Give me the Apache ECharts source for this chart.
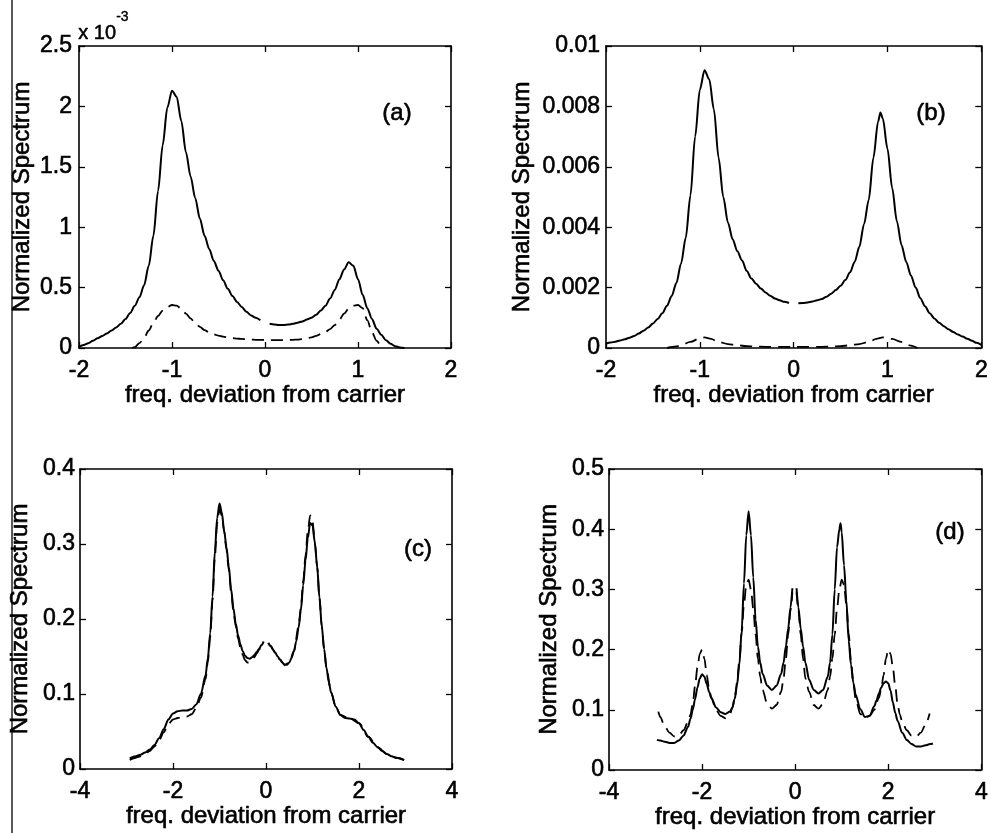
<!DOCTYPE html>
<html>
<head>
<meta charset="utf-8">
<script src="https://cdn.jsdelivr.net/npm/echarts@6/dist/echarts.min.js"></script>
<style>html,body{margin:0;padding:0;background:#fff;}#chart{width:991px;height:833px;}</style>
</head>
<body>
<div id="chart"></div>
<script>
// ---------- DATA ----------
// Panel (a): values in units of 1e-3
const aSolidX = [-2.0,-1.95,-1.9,-1.85,-1.8,-1.75,-1.7,-1.65,-1.6,-1.55,-1.5,-1.45,-1.4,-1.35,-1.3,-1.25,-1.2,-1.15,-1.1,-1.05,-1.0,-0.95,-0.9,-0.85,-0.8,-0.75,-0.7,-0.65,-0.6,-0.55,-0.5,-0.45,-0.4,-0.35,-0.3,-0.25,-0.2,-0.15,-0.1,-0.05,0,0.05,0.1,0.15,0.2,0.25,0.3,0.35,0.4,0.45,0.5,0.55,0.6,0.65,0.7,0.75,0.8,0.85,0.9,0.95,1.0,1.05,1.1,1.15,1.2,1.25,1.3,1.35,1.4,1.45,1.5];
const aSolidY = [0.01,0.025,0.04,0.06,0.08,0.1,0.12,0.145,0.17,0.2,0.24,0.29,0.35,0.42,0.52,0.68,0.93,1.3,1.68,1.99,2.13,2.08,1.88,1.62,1.42,1.24,1.07,0.93,0.82,0.72,0.64,0.56,0.49,0.43,0.38,0.34,0.3,0.27,0.25,0.23,null,0.2,0.195,0.19,0.19,0.195,0.2,0.21,0.22,0.235,0.25,0.275,0.31,0.35,0.41,0.48,0.57,0.65,0.71,0.68,0.57,0.44,0.33,0.24,0.16,0.11,0.065,0.035,0.015,0.005,0.0];
const aDashX = [-1.43,-1.4,-1.35,-1.3,-1.25,-1.2,-1.15,-1.1,-1.05,-1.0,-0.95,-0.9,-0.85,-0.8,-0.75,-0.7,-0.65,-0.6,-0.55,-0.5,-0.45,-0.4,-0.35,-0.3,-0.25,-0.2,-0.15,-0.1,-0.05,0,0.05,0.1,0.15,0.2,0.25,0.3,0.35,0.4,0.45,0.5,0.55,0.6,0.65,0.7,0.75,0.8,0.85,0.9,0.95,1.0,1.05,1.1,1.15,1.2,1.25,1.28];
const aDashY = [0.0,0.008,0.04,0.085,0.145,0.21,0.265,0.31,0.34,0.356,0.35,0.325,0.285,0.245,0.205,0.175,0.148,0.128,0.113,0.102,0.094,0.087,0.082,0.078,0.075,0.072,0.07,0.068,0.067,0.066,0.066,0.066,0.066,0.066,0.067,0.068,0.07,0.074,0.08,0.088,0.1,0.115,0.133,0.157,0.19,0.235,0.285,0.325,0.35,0.356,0.33,0.23,0.13,0.06,0.015,0.0];

// Panel (b)
const bSolidX = [-2.0,-1.95,-1.9,-1.85,-1.8,-1.75,-1.7,-1.65,-1.6,-1.55,-1.5,-1.45,-1.4,-1.35,-1.3,-1.25,-1.2,-1.15,-1.1,-1.05,-1.0,-0.95,-0.9,-0.85,-0.8,-0.75,-0.7,-0.65,-0.6,-0.55,-0.5,-0.45,-0.4,-0.35,-0.3,-0.25,-0.2,-0.15,-0.1,-0.05,0,0.05,0.1,0.15,0.2,0.25,0.3,0.35,0.4,0.45,0.5,0.55,0.6,0.65,0.7,0.75,0.8,0.85,0.9,0.925,0.95,1.0,1.05,1.1,1.15,1.2,1.25,1.3,1.35,1.4,1.45,1.5,1.55,1.6,1.65,1.7,1.75,1.8,1.85,1.9,1.95,2.0];
const bSolidY = [0.00015,0.00018,0.00021,0.00025,0.00029,0.00034,0.0004,0.00048,0.00057,0.00068,0.00081,0.00096,0.00115,0.0014,0.00172,0.00215,0.0028,0.00365,0.00505,0.007,0.00855,0.0092,0.0089,0.0079,0.0063,0.005,0.00415,0.0036,0.0032,0.0029,0.00255,0.0023,0.00213,0.00197,0.00184,0.00173,0.00164,0.00158,0.00153,0.00149,null,0.00148,0.00149,0.00151,0.00154,0.00158,0.00162,0.0017,0.0018,0.00192,0.00206,0.00225,0.0025,0.00285,0.00335,0.0041,0.0049,0.0063,0.0075,0.0078,0.0076,0.0066,0.0053,0.0042,0.0034,0.00285,0.0024,0.002,0.00165,0.00138,0.00115,0.00098,0.00084,0.00072,0.00062,0.00053,0.00045,0.00038,0.00031,0.00024,0.00017,0.0001];
const bDashX = [-1.35,-1.25,-1.2,-1.1,-1.0,-0.95,-0.88,-0.8,-0.7,-0.6,-0.5,-0.4,-0.3,-0.15,0,0.15,0.3,0.4,0.5,0.6,0.7,0.8,0.88,0.95,1.05,1.15,1.25,1.32];
const bDashY = [0.0,0.00005,0.0001,0.0002,0.00032,0.00035,0.0003,0.0002,0.00013,0.00009,0.00006,0.00005,0.00004,0.00004,0.00004,0.00004,0.00004,0.00005,0.00006,0.00009,0.00013,0.0002,0.0003,0.00035,0.0003,0.0002,0.00008,0.0];

// Panel (c)
const cSolidX = [-2.93,-2.8,-2.7,-2.6,-2.5,-2.4,-2.3,-2.2,-2.1,-2.0,-1.9,-1.8,-1.7,-1.6,-1.5,-1.4,-1.3,-1.25,-1.2,-1.15,-1.1,-1.05,-1.0,-0.95,-0.9,-0.85,-0.8,-0.75,-0.7,-0.65,-0.6,-0.55,-0.5,-0.45,-0.4,-0.35,-0.3,-0.25,-0.2,-0.15,-0.1,-0.05,0,0.05,0.1,0.15,0.2,0.25,0.3,0.35,0.4,0.45,0.5,0.55,0.6,0.65,0.7,0.75,0.8,0.85,0.9,0.95,1.0,1.05,1.1,1.15,1.2,1.25,1.3,1.35,1.4,1.5,1.6,1.7,1.8,1.9,2.0,2.1,2.2,2.3,2.4,2.5,2.6,2.7,2.8,2.97];
const cSolidY = [0.014,0.017,0.019,0.022,0.026,0.032,0.041,0.053,0.066,0.074,0.077,0.078,0.078,0.08,0.086,0.1,0.125,0.148,0.181,0.23,0.29,0.335,0.354,0.342,0.318,0.296,0.27,0.24,0.214,0.194,0.178,0.166,0.157,0.151,0.148,0.147,0.149,0.152,0.156,0.16,0.165,0.17,null,0.168,0.164,0.159,0.155,0.15,0.146,0.142,0.139,0.139,0.142,0.148,0.157,0.17,0.188,0.212,0.245,0.278,0.308,0.328,0.325,0.302,0.27,0.228,0.19,0.16,0.135,0.116,0.102,0.083,0.072,0.068,0.0675,0.066,0.061,0.052,0.043,0.035,0.029,0.024,0.02,0.017,0.015,0.012];
const cDashX = [-2.93,-2.8,-2.7,-2.6,-2.5,-2.4,-2.3,-2.2,-2.1,-2.0,-1.9,-1.8,-1.7,-1.6,-1.5,-1.4,-1.3,-1.25,-1.2,-1.15,-1.1,-1.05,-1.0,-0.95,-0.9,-0.85,-0.8,-0.75,-0.7,-0.65,-0.6,-0.55,-0.5,-0.45,-0.4,-0.35,-0.3,-0.25,-0.2,-0.15,-0.1,-0.05,0,0.05,0.1,0.2,0.3,0.4,0.5,0.6,0.7,0.75,0.8,0.85,0.9,0.95,1.0,1.05,1.1,1.15,1.2,1.25,1.3,1.4,1.5,1.6,1.8,2.0,2.2,2.4,2.6,2.8,2.97];
const cDashY = [0.012,0.015,0.017,0.02,0.024,0.03,0.038,0.049,0.06,0.066,0.068,0.069,0.07,0.073,0.081,0.095,0.12,0.143,0.176,0.225,0.282,0.328,0.346,0.338,0.316,0.292,0.265,0.236,0.21,0.19,0.174,0.162,0.152,0.145,0.142,0.142,0.145,0.149,0.154,0.159,0.164,0.168,null,0.168,0.164,0.155,0.146,0.139,0.142,0.157,0.19,0.215,0.25,0.285,0.318,0.338,0.33,0.302,0.27,0.228,0.19,0.16,0.135,0.102,0.083,0.072,0.0675,0.061,0.043,0.029,0.02,0.015,0.012];

// Panel (d)
const dSolidX = [-2.97,-2.9,-2.8,-2.7,-2.6,-2.5,-2.4,-2.3,-2.25,-2.2,-2.15,-2.1,-2.05,-2.0,-1.95,-1.9,-1.85,-1.8,-1.7,-1.6,-1.5,-1.4,-1.35,-1.3,-1.25,-1.2,-1.15,-1.1,-1.05,-1.0,-0.95,-0.9,-0.85,-0.8,-0.75,-0.7,-0.6,-0.5,-0.4,-0.3,-0.25,-0.2,-0.15,-0.1,-0.06,0,0.03,0.07,0.12,0.17,0.22,0.3,0.4,0.5,0.6,0.7,0.75,0.8,0.85,0.9,0.95,0.975,1.0,1.05,1.1,1.15,1.2,1.25,1.3,1.4,1.5,1.6,1.7,1.75,1.8,1.85,1.9,1.95,2.0,2.05,2.1,2.15,2.2,2.3,2.4,2.5,2.6,2.7,2.8,2.9,2.96];
const dSolidY = [0.05,0.049,0.047,0.045,0.045,0.049,0.057,0.072,0.085,0.1,0.118,0.137,0.152,0.159,0.155,0.143,0.13,0.119,0.104,0.096,0.093,0.097,0.104,0.118,0.14,0.175,0.23,0.31,0.39,0.43,0.39,0.32,0.25,0.205,0.178,0.16,0.14,0.133,0.14,0.16,0.178,0.205,0.235,0.27,0.302,null,0.302,0.27,0.235,0.205,0.178,0.15,0.133,0.127,0.133,0.155,0.178,0.225,0.3,0.37,0.4,0.41,0.395,0.34,0.282,0.215,0.175,0.145,0.125,0.101,0.088,0.09,0.106,0.116,0.127,0.137,0.144,0.147,0.144,0.132,0.112,0.095,0.082,0.062,0.05,0.043,0.039,0.039,0.041,0.043,0.044];
const dDashX = [-2.94,-2.9,-2.8,-2.7,-2.6,-2.5,-2.4,-2.3,-2.25,-2.2,-2.15,-2.1,-2.05,-2.0,-1.95,-1.9,-1.85,-1.8,-1.7,-1.6,-1.5,-1.4,-1.35,-1.3,-1.25,-1.2,-1.15,-1.1,-1.05,-1.0,-0.95,-0.9,-0.85,-0.8,-0.75,-0.7,-0.6,-0.5,-0.4,-0.3,-0.25,-0.2,-0.15,-0.1,-0.06,0,0.03,0.07,0.12,0.17,0.22,0.3,0.4,0.5,0.6,0.7,0.75,0.8,0.85,0.9,0.95,1.0,1.05,1.1,1.15,1.2,1.25,1.3,1.4,1.5,1.6,1.7,1.8,1.85,1.9,1.95,2.0,2.05,2.1,2.15,2.2,2.25,2.3,2.4,2.5,2.6,2.7,2.8,2.89];
const dDashY = [0.097,0.088,0.072,0.062,0.056,0.057,0.066,0.08,0.092,0.11,0.14,0.17,0.193,0.2,0.185,0.158,0.135,0.12,0.1,0.09,0.086,0.093,0.103,0.118,0.145,0.18,0.227,0.275,0.308,0.316,0.3,0.268,0.225,0.185,0.155,0.133,0.11,0.102,0.108,0.13,0.152,0.185,0.225,0.265,0.295,null,0.295,0.265,0.225,0.185,0.152,0.13,0.108,0.102,0.11,0.133,0.155,0.185,0.225,0.268,0.3,0.316,0.308,0.275,0.227,0.18,0.145,0.118,0.093,0.086,0.09,0.1,0.12,0.135,0.158,0.185,0.2,0.193,0.17,0.14,0.11,0.092,0.08,0.066,0.057,0.055,0.062,0.075,0.094];

// Axis ticks
const xTicksTop = [-2, -1, 0, 1, 2];
const xTicksBottom = [-4, -2, 0, 2, 4];
const yTicksA = [0, 0.5, 1, 1.5, 2, 2.5];
const yTicksB = [0, 0.002, 0.004, 0.006, 0.008, 0.01];
const yTicksC = [0, 0.1, 0.2, 0.3, 0.4];
const yTicksD = [0, 0.1, 0.2, 0.3, 0.4, 0.5];

const xTitle = 'freq. deviation from carrier';
const yTitle = 'Normalized Spectrum';
const panelLabels = ['(a)', '(b)', '(c)', '(d)'];

// ---------- CHART ----------
const FONT = "'Liberation Sans', Arial, Helvetica, sans-serif";
const BLACK = '#000';

function pairs(xs, ys) { return xs.map((x, i) => [x, ys[i] === null ? '-' : ys[i]]); }

const grids = [
  { left: 79, top: 46, width: 372, height: 302 },
  { left: 606, top: 46, width: 376, height: 302 },
  { left: 80, top: 469, width: 372, height: 300 },
  { left: 609, top: 469, width: 373, height: 301 }
];
const xTicksAll = [xTicksTop, xTicksTop, xTicksBottom, xTicksBottom];
const yTicksAll = [yTicksA, yTicksB, yTicksC, yTicksD];
const yNameGaps = [45, 72, 48, 48];
const yLabelMargins = [7, 6, 5, 5];
const thick = { textBorderColor: '#000', textBorderWidth: 0.6 };

const xAxis = [], yAxis = [];
grids.forEach((g, gi) => {
  const xt = xTicksAll[gi], yt = yTicksAll[gi];
  const xmin = xt[0], xmax = xt[xt.length - 1], xint = xt[1] - xt[0];
  const ymin = yt[0], ymax = yt[yt.length - 1], yint = yt[1] - yt[0];
  const line = { show: true, onZero: false, lineStyle: { color: BLACK, width: 1.6 } };
  const tick = { show: true, inside: true, length: 6, lineStyle: { color: BLACK, width: 1.3 } };
  xAxis.push({
    gridIndex: gi, type: 'value', position: 'bottom', min: xmin, max: xmax, interval: xint,
    axisLine: line, axisTick: tick, splitLine: { show: false },
    axisLabel: Object.assign({ color: BLACK, fontSize: 23, fontFamily: FONT, margin: 11 }, thick),
    name: xTitle, nameLocation: 'middle', nameGap: 30,
    nameTextStyle: Object.assign({ color: BLACK, fontSize: 24, fontFamily: FONT }, thick)
  });
  xAxis.push({
    gridIndex: gi, type: 'value', position: 'top', min: xmin, max: xmax, interval: xint,
    axisLine: line, axisTick: tick, splitLine: { show: false }, axisLabel: { show: false }
  });
  yAxis.push({
    gridIndex: gi, type: 'value', position: 'left', min: ymin, max: ymax, interval: yint,
    axisLine: line, axisTick: tick, splitLine: { show: false },
    axisLabel: Object.assign({ color: BLACK, fontSize: 23, fontFamily: FONT, margin: yLabelMargins[gi] }, thick),
    name: yTitle, nameLocation: 'middle', nameGap: yNameGaps[gi], nameRotate: 90,
    nameTextStyle: Object.assign({ color: BLACK, fontSize: 24, fontFamily: FONT }, thick)
  });
  yAxis.push({
    gridIndex: gi, type: 'value', position: 'right', min: ymin, max: ymax, interval: yint,
    axisLine: line, axisTick: tick, splitLine: { show: false }, axisLabel: { show: false }
  });
});

const sets = [
  [aSolidX, aSolidY, aDashX, aDashY],
  [bSolidX, bSolidY, bDashX, bDashY],
  [cSolidX, cSolidY, cDashX, cDashY],
  [dSolidX, dSolidY, dDashX, dDashY]
];
const series = [];
sets.forEach((s, gi) => {
  series.push({
    type: 'line', xAxisIndex: gi * 2, yAxisIndex: gi * 2, data: pairs(s[0], s[1]),
    showSymbol: false, smooth: 0.3, smoothMonotone: 'x', connectNulls: false,
    lineStyle: { color: BLACK, width: 2 }, silent: true, animation: false
  });
  series.push({
    type: 'line', xAxisIndex: gi * 2, yAxisIndex: gi * 2, data: pairs(s[2], s[3]),
    showSymbol: false, smooth: 0.3, smoothMonotone: 'x', connectNulls: false,
    lineStyle: { color: BLACK, width: 1.8, type: [12, 7] }, silent: true, animation: false
  });
});

const labelPos = [[397, 113], [931, 113], [418, 549], [950, 532]];
const graphic = [
  { type: 'line', shape: { x1: 12, y1: 0, x2: 12, y2: 833 }, style: { stroke: '#222', lineWidth: 1.5 }, silent: true },
  { type: 'text', left: 78, top: 23, style: { text: 'x 10', fill: BLACK, font: '20px ' + FONT, stroke: BLACK, lineWidth: 0.5 } },
  { type: 'text', left: 116, top: 10, style: { text: '-3', fill: BLACK, font: '14px ' + FONT, stroke: BLACK, lineWidth: 0.4 } }
];
panelLabels.forEach((t, i) => {
  graphic.push({ type: 'text', x: labelPos[i][0], y: labelPos[i][1],
    style: { text: t, fill: BLACK, font: '24px ' + FONT, align: 'center', verticalAlign: 'middle', stroke: BLACK, lineWidth: 0.6 } });
});

const chart = echarts.init(document.getElementById('chart'), null, { renderer: 'canvas' });
chart.setOption({
  backgroundColor: '#fff',
  animation: false,
  grid: grids.map(g => Object.assign({ containLabel: false }, g)),
  xAxis, yAxis, series, graphic
});
</script>
</body>
</html>
